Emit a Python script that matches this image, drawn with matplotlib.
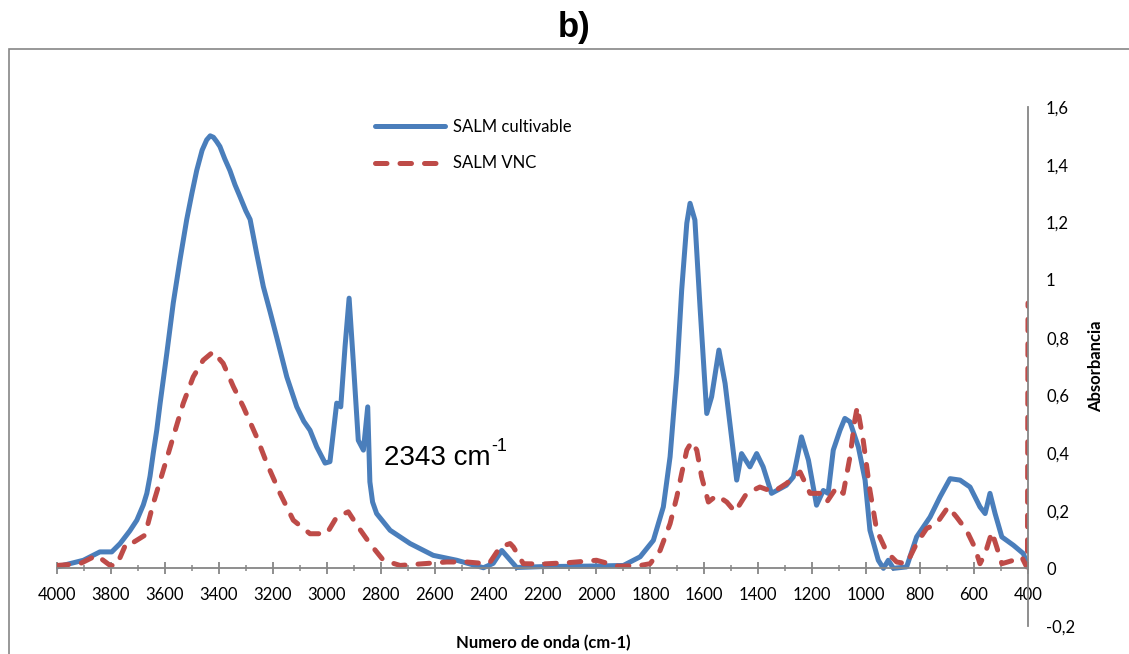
import matplotlib
matplotlib.use("Agg")
import matplotlib.pyplot as plt
from matplotlib.ticker import MultipleLocator, FuncFormatter
from matplotlib.patches import Rectangle

plt.rcParams['font.family'] = ['Lato', 'DejaVu Sans']

# SALM cultivable (solid blue)
wn_cult = [4000, 3902, 3841, 3797, 3766, 3730, 3704, 3680, 3667, 3655, 3643, 3630, 3618,
           3593, 3569, 3544, 3519, 3500, 3482, 3462, 3445, 3432, 3420, 3408, 3396, 3378,
           3359, 3340, 3322, 3300, 3284, 3260, 3235, 3210, 3185, 3148, 3111, 3085, 3062,
           3037, 3006, 2988, 2963, 2948, 2932, 2917, 2901, 2883, 2864, 2848, 2840, 2830,
           2815, 2765, 2691, 2605, 2518, 2419, 2383, 2351, 2296, 2200, 2000, 1900, 1838,
           1789, 1752, 1727, 1702, 1684, 1665, 1653, 1635, 1616, 1591, 1573, 1546, 1523,
           1480, 1462, 1431, 1406, 1382, 1351, 1296, 1270, 1240, 1214, 1184, 1159, 1141,
           1122, 1097, 1079, 1060, 1029, 1004, 986, 955, 936, 918, 899, 850, 813, 763,
           726, 689, 652, 615, 578, 559, 541, 522, 497, 454, 417, 400]
abs_cult = [0.005, 0.028, 0.057, 0.057, 0.086, 0.13, 0.167, 0.22, 0.26, 0.32, 0.40, 0.48, 0.57,
            0.745, 0.92, 1.07, 1.21, 1.30, 1.38, 1.45, 1.486, 1.50, 1.495, 1.48, 1.463, 1.42,
            1.38, 1.33, 1.29, 1.24, 1.21, 1.093, 0.977, 0.89, 0.80, 0.664, 0.56, 0.51, 0.479,
            0.421, 0.365, 0.37, 0.573, 0.56, 0.77, 0.937, 0.71, 0.444, 0.41, 0.56, 0.30, 0.23,
            0.19, 0.132, 0.086, 0.045, 0.028, 0.002, 0.017, 0.062, 0.003, 0.006, 0.008, 0.01, 0.04,
            0.097, 0.213, 0.387, 0.676, 0.965, 1.197, 1.266, 1.208, 0.907, 0.537, 0.595, 0.757, 0.641,
            0.306, 0.398, 0.352, 0.398, 0.352, 0.26, 0.288, 0.317, 0.456, 0.375, 0.219, 0.27, 0.26,
            0.41, 0.479, 0.52, 0.508, 0.421, 0.306, 0.132, 0.028, 0.0, 0.028, 0.0, 0.005, 0.109, 0.178,
            0.248, 0.311, 0.306, 0.282, 0.213, 0.19, 0.26, 0.19, 0.109, 0.08, 0.051, 0.005]

# SALM VNC (dashed red)
wn_vnc = [4000, 3915, 3853, 3803, 3779, 3742, 3717, 3674, 3643, 3606, 3569, 3532,
          3495, 3458, 3421, 3384, 3346, 3309, 3260, 3222, 3173, 3124, 3062, 3000,
          2963, 2920, 2883, 2840, 2790, 2728, 2642, 2555, 2481, 2407, 2394, 2357,
          2320, 2308, 2271, 2200, 2100, 2000, 1918, 1838, 1801, 1764, 1727, 1702,
          1684, 1665, 1647, 1628, 1610, 1585, 1554, 1517, 1486, 1443, 1394, 1344,
          1296, 1245, 1208, 1171, 1146, 1109, 1085, 1060, 1042, 1033, 1011, 986,
          961, 924, 887, 850, 813, 776, 739, 696, 665, 628, 598, 578, 559, 534,
          516, 497, 454, 423, 405, 402, 400]
abs_vnc = [0.01, 0.016, 0.045, 0.01, 0.01, 0.09, 0.09, 0.115, 0.225, 0.34, 0.456, 0.572,
           0.664, 0.722, 0.751, 0.711, 0.63, 0.56, 0.456, 0.364, 0.26, 0.167, 0.12, 0.12,
           0.178, 0.196, 0.143, 0.086, 0.028, 0.01, 0.016, 0.022, 0.022, 0.016, 0.022, 0.074,
           0.086, 0.074, 0.016, 0.015, 0.02, 0.028, 0.007, 0.01, 0.016, 0.062, 0.155, 0.248,
           0.329, 0.41, 0.439, 0.41, 0.317, 0.23, 0.253, 0.23, 0.196, 0.26, 0.282, 0.265,
           0.294, 0.334, 0.26, 0.26, 0.23, 0.282, 0.26, 0.387, 0.514, 0.56, 0.444, 0.27,
           0.132, 0.057, 0.022, 0.016, 0.086, 0.138, 0.155, 0.213, 0.178, 0.132, 0.074, 0.016, 0.051, 0.126,
           0.074, 0.016, 0.028, 0.039, 0.005, 0.02, 0.92]

blue = '#4a7ebb'
red = '#be4b48'
grey = '#868686'

fig = plt.figure(figsize=(11.29, 6.54), dpi=100)
ax = fig.add_axes([57 / 1129, 28 / 654, 971 / 1129, 519 / 654])

# frame of the chart area (only left/top visible in the original)
fig.patches.append(Rectangle((9 / 1129, -0.1), 1.2, (654 - 49) / 654 + 0.1,
                             transform=fig.transFigure, fill=False,
                             edgecolor=grey, lw=1.2, zorder=0))

ax.plot(wn_cult, abs_cult, color=blue, lw=3.6, solid_capstyle='round',
        solid_joinstyle='round', label='SALM cultivable')
ax.plot(wn_vnc, abs_vnc, color=red, lw=3.6, dashes=(2.3, 2.6),
        dash_capstyle='round', label='SALM VNC')

ax.set_xlim(4000, 400)
ax.set_ylim(-0.2, 1.6)

for s in ['top', 'left']:
    ax.spines[s].set_visible(False)
ax.spines['bottom'].set_position(('data', 0))
ax.spines['bottom'].set_color(grey)
ax.spines['right'].set_color(grey)
ax.spines['bottom'].set_linewidth(1.3)
ax.spines['right'].set_linewidth(1.3)

ax.xaxis.set_major_locator(MultipleLocator(200))
ax.xaxis.set_minor_locator(MultipleLocator(100))
ax.tick_params(axis='x', which='major', direction='inout', length=9, width=1.3,
               color=grey, labelsize=12, pad=9)
ax.tick_params(axis='x', which='minor', direction='inout', length=5, width=1.1,
               color=grey)

ax.yaxis.tick_right()
ax.yaxis.set_major_locator(MultipleLocator(0.2))
ax.yaxis.set_major_formatter(FuncFormatter(
    lambda v, p: ('%g' % round(v, 1)).replace('.', ',')))
ax.tick_params(axis='y', length=0, labelsize=12, pad=13)

fig.text(1096 / 1129, 1 - 366 / 654, 'Absorbancia', rotation=90, ha='center',
         va='center', fontsize=12, fontweight='bold')
fig.text(543 / 1129, 1 - 643 / 654, 'Numero de onda (cm-1)', ha='center',
         va='center', fontsize=12, fontweight='bold')
fig.text(574 / 1129, 1 - 27 / 654, 'b)', ha='center', va='center',
         fontsize=25, fontweight='bold', family='Liberation Sans')

t = ax.text(2787, 0.358, '2343 cm', fontsize=20, family='Liberation Sans',
            ha='left', va='baseline')
ax.annotate('-1', xy=(1, 0.62), xycoords=t, fontsize=13,
            family='Liberation Sans', ha='left', va='bottom')

ax.legend(loc='center left', bbox_to_anchor=(375 / 1129, 1 - 145 / 654),
          bbox_transform=fig.transFigure, frameon=False, fontsize=12,
          handlelength=4.2, handletextpad=0.5, labelspacing=1.25,
          borderpad=0, borderaxespad=0)

fig.savefig('out.png', dpi=100)
